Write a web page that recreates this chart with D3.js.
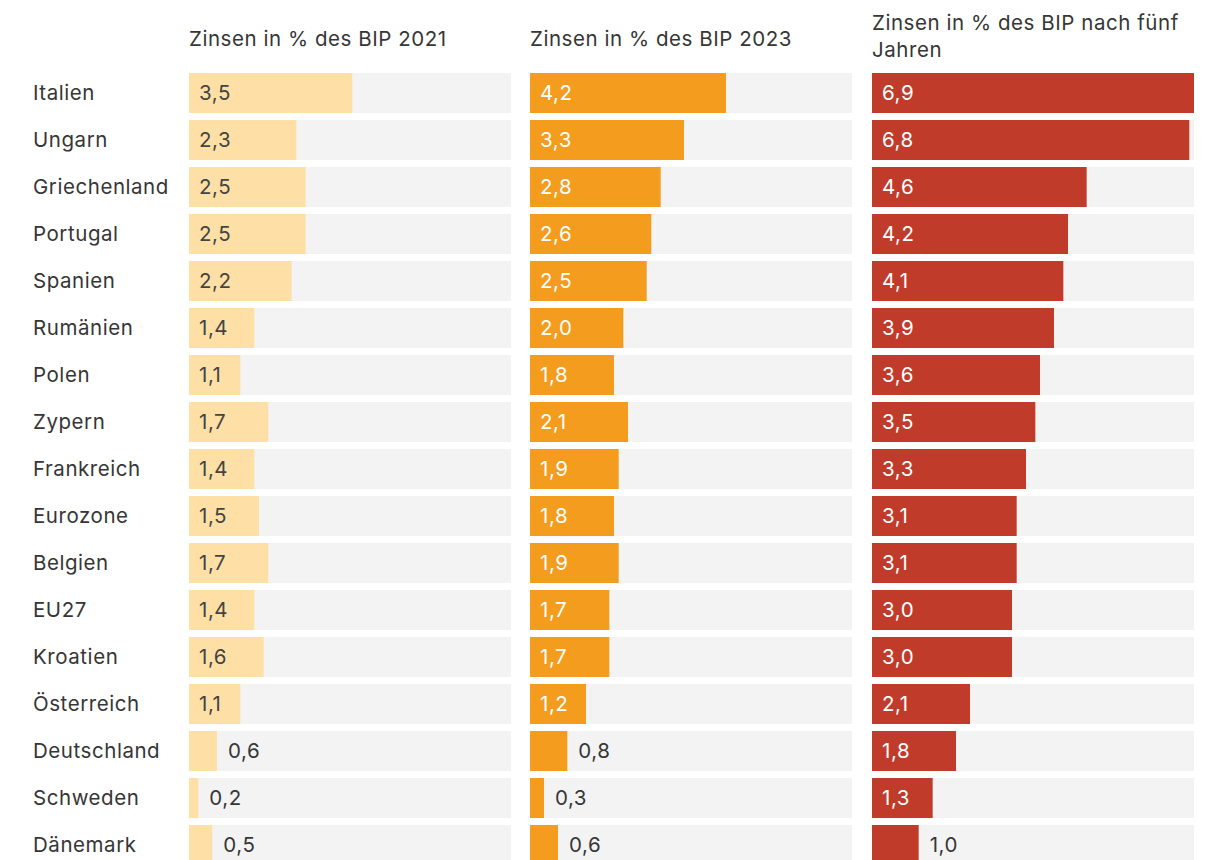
<!DOCTYPE html>
<html>
<head>
<meta charset="utf-8">
<script src="https://cdn.jsdelivr.net/npm/d3@7"></script>
<style>
  html, body { margin: 0; padding: 0; background: #fff; }
  svg { display: block; }
  text { font-family: Inter, "Open Sans", sans-serif; letter-spacing: 0.55px; }
</style>
</head>
<body>
<svg id="chart" width="1212" height="860"></svg>
<script>
// Länder und Zinslast in % des BIP
const countries = ["Italien", "Ungarn", "Griechenland", "Portugal", "Spanien", "Rumänien", "Polen", "Zypern", "Frankreich", "Eurozone", "Belgien", "EU27", "Kroatien", "Österreich", "Deutschland", "Schweden", "Dänemark"];
const values2021 = [3.5, 2.3, 2.5, 2.5, 2.2, 1.4, 1.1, 1.7, 1.4, 1.5, 1.7, 1.4, 1.6, 1.1, 0.6, 0.2, 0.5];
const values2023 = [4.2, 3.3, 2.8, 2.6, 2.5, 2.0, 1.8, 2.1, 1.9, 1.8, 1.9, 1.7, 1.7, 1.2, 0.8, 0.3, 0.6];
const valuesFiveYears = [6.9, 6.8, 4.6, 4.2, 4.1, 3.9, 3.6, 3.5, 3.3, 3.1, 3.1, 3.0, 3.0, 2.1, 1.8, 1.3, 1.0];
const panelTitles = [["Zinsen in % des BIP 2021"], ["Zinsen in % des BIP 2023"], ["Zinsen in % des BIP nach fünf", "Jahren"]];

const panels = [
  { values: values2021, title: panelTitles[0], x0: 189, fill: "#fee0a6", inside: "#444444" },
  { values: values2023, title: panelTitles[1], x0: 530, fill: "#f39c1e", inside: "#ffffff" },
  { values: valuesFiveYears, title: panelTitles[2], x0: 872, fill: "#c13b2b", inside: "#ffffff" }
];

const svg = d3.select("#chart");
const panelWidth = 322;
const fontSize = 20.5;
const textColor = "#363636";
const fmt = v => d3.format(".1f")(v).replace(".", ",");

const y = d3.scaleBand().domain(countries).range([73, 865]).paddingInner(7 / 47).paddingOuter(0);
const x = d3.scaleLinear().domain([0, 6.9]).range([0, panelWidth]);

// Ländernamen
svg.append("g").selectAll("text").data(countries).join("text")
  .attr("x", 33)
  .attr("y", d => y(d) + y.bandwidth() / 2)
  .attr("dy", "0.35em")
  .attr("fill", textColor)
  .attr("font-size", fontSize)
  .text(d => d);

panels.forEach(p => {
  const g = svg.append("g").attr("transform", `translate(${p.x0},0)`);

  // Überschrift
  const title = g.append("text").attr("fill", textColor).attr("font-size", fontSize);
  const titleTop = p.title.length > 1 ? 30 : 46;
  p.title.forEach((line, i) => {
    title.append("tspan").attr("x", 0).attr("y", titleTop + i * 27).text(line);
  });

  const rows = g.selectAll("g.row").data(countries.map((c, i) => ({ c, v: p.values[i] })))
    .join("g").attr("class", "row");

  // Hintergrundbalken
  rows.append("rect")
    .attr("x", 0).attr("y", d => y(d.c))
    .attr("width", panelWidth).attr("height", y.bandwidth())
    .attr("fill", "#f3f3f3");

  // Wertbalken
  rows.append("rect")
    .attr("x", 0).attr("y", d => y(d.c))
    .attr("width", d => x(d.v)).attr("height", y.bandwidth())
    .attr("fill", p.fill);

  // Wertbeschriftung: innen bei breiten Balken, sonst rechts daneben
  const outside = d => x(d.v) < 48;
  rows.append("text")
    .attr("x", d => outside(d) ? x(d.v) + 11 : 10)
    .attr("y", d => y(d.c) + y.bandwidth() / 2)
    .attr("dy", "0.35em")
    .attr("font-size", fontSize)
    .attr("fill", d => outside(d) ? textColor : p.inside)
    .text(d => fmt(d.v));
});
</script>
</body>
</html>
